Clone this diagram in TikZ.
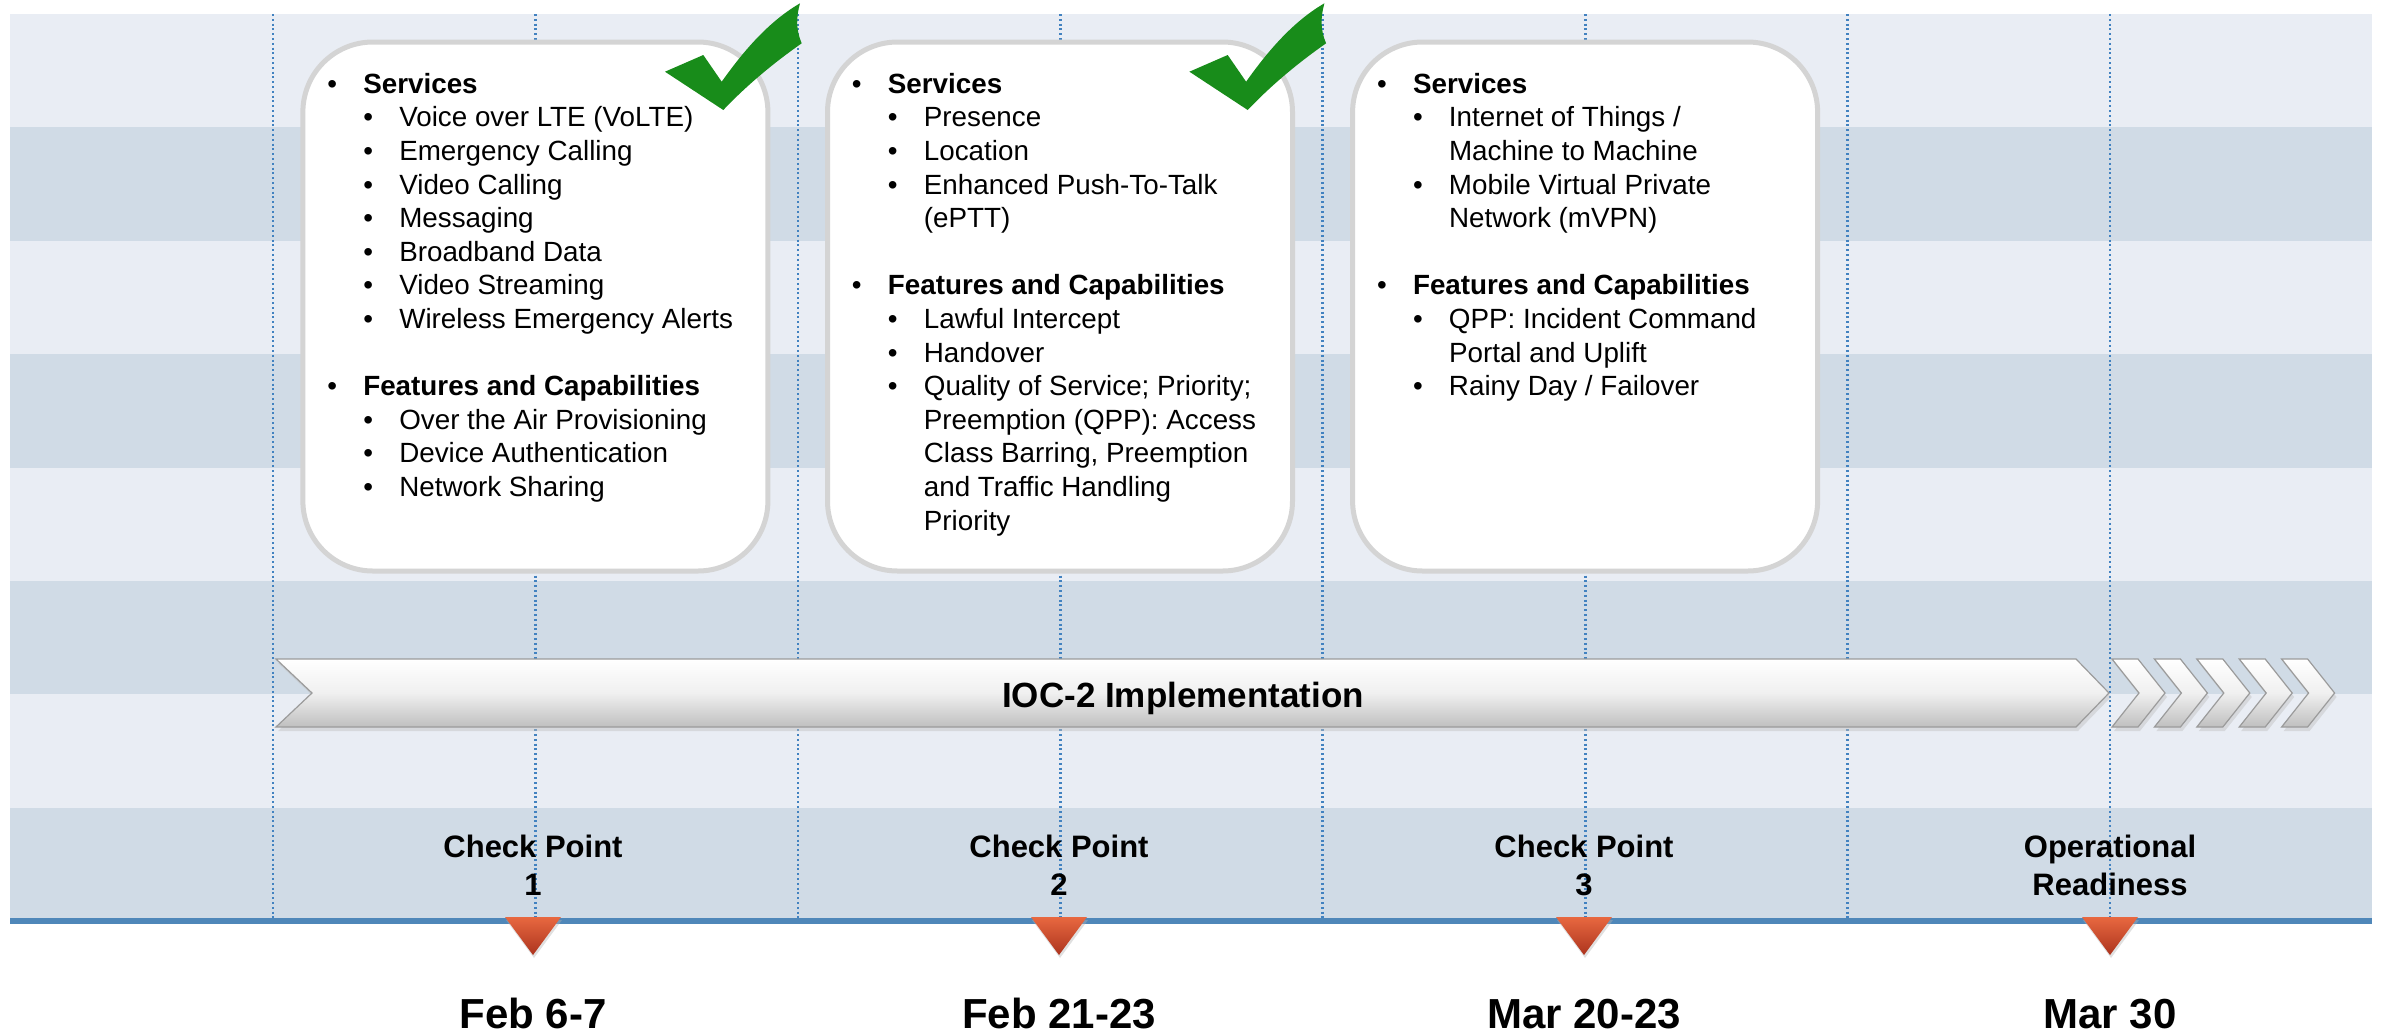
\documentclass[tikz,border=0pt]{standalone}
\usepackage{fontspec}
\setmainfont{Liberation Sans}
\definecolor{bandL}{RGB}{233,237,244}
\definecolor{bandD}{RGB}{208,219,230}
\definecolor{dotc}{RGB}{66,130,192}
\definecolor{axisc}{RGB}{79,135,185}
\definecolor{boxb}{RGB}{212,212,212}
\definecolor{chk}{RGB}{24,140,26}
\definecolor{triT}{RGB}{232,104,64}
\definecolor{triB}{RGB}{172,52,30}
\definecolor{arrB}{RGB}{155,155,155}
\newcommand\LA[1]{\makebox[18pt][l]{\textbullet}\textbf{#1}}
\newcommand\LB[1]{\hspace*{18pt}\makebox[18pt][l]{\textbullet}#1}
\newcommand\LC[1]{\hspace*{36pt}#1}
\tikzset{
  dotline/.style={draw=dotc, line width=1.4pt, dash pattern=on 1pt off 1.4pt},
  boxstyle/.style={draw=boxb, line width=2.5pt, fill=white, rounded corners=35pt,
    minimum width=232.5pt, minimum height=264.5pt, inner sep=0pt},
  txt/.style={anchor=base west, inner sep=0pt, font=\fontsize{13.9}{16}\selectfont},
  cplabel/.style={anchor=base, inner sep=0pt, font=\fontsize{15.5}{18}\selectfont\bfseries},
  datelabel/.style={anchor=base, inner sep=0pt, font=\fontsize{21}{25}\selectfont\bfseries},
  arrowfill/.style={draw=arrB, line width=0.6pt, top color=white, bottom color=black!25, middle color=white!94!black},
  shadowfill/.style={fill=black!25, opacity=0.45},
  tristyle/.style={top color=triT, bottom color=triB},
  checkshape/.style={fill=chk}
}
\begin{document}
\begin{tikzpicture}[x=0.5pt,y=-0.5pt]
\useasboundingbox (0,0) rectangle (2384,1035);
% bands
\foreach \i in {0,2,4,6} {
  \fill[bandL] (10,{14+113.375*\i}) rectangle (2372,{14+113.375*(\i+1)});
}
\foreach \i in {1,3,5,7} {
  \fill[bandD] (10,{14+113.375*\i}) rectangle (2372,{14+113.375*(\i+1)});
}
% dotted grid lines
\foreach \x in {273,535.4,797.9,1060.3,1322.7,1585.1,1847.6,2110} {
  \draw[dotline] (\x,14) -- (\x,919);
}
% axis
\draw[axisc, line width=2.85pt] (10,921) -- (2372,921);

% boxes
\node[boxstyle] (b1) at (535.4,306.5) {};
\node[boxstyle] (b2) at (1060.0,306.5) {};
\node[boxstyle] (b3) at (1585.1,306.5) {};

% box 1 text
\foreach \k/\t in {0/{\LA{Services}}, 1/{\LB{Voice over LTE (VoLTE)}}, 2/{\LB{Emergency Calling}},
  3/{\LB{Video Calling}}, 4/{\LB{Messaging}}, 5/{\LB{Broadband Data}}, 6/{\LB{Video Streaming}},
  7/{\LB{Wireless Emergency Alerts}}, 9/{\LA{Features and Capabilities}},
  10/{\LB{Over the Air Provisioning}}, 11/{\LB{Device Authentication}}, 12/{\LB{Network Sharing}}} {
  \node[txt] (ta\k) at (326.9,{93.3+33.6*\k}) {\t};
}
% box 2 text
\foreach \k/\t in {0/{\LA{Services}}, 1/{\LB{Presence}}, 2/{\LB{Location}},
  3/{\LB{Enhanced Push-To-Talk}}, 4/{\LC{(ePTT)}}, 6/{\LA{Features and Capabilities}},
  7/{\LB{Lawful Intercept}}, 8/{\LB{Handover}}, 9/{\LB{Quality of Service; Priority;}},
  10/{\LC{Preemption (QPP): Access}}, 11/{\LC{Class Barring, Preemption}},
  12/{\LC{and Traffic Handling}}, 13/{\LC{Priority}}} {
  \node[txt] (tb\k) at (851.5,{93.3+33.6*\k}) {\t};
}
% box 3 text
\foreach \k/\t in {0/{\LA{Services}}, 1/{\LB{Internet of Things /}}, 2/{\LC{Machine to Machine}},
  3/{\LB{Mobile Virtual Private}}, 4/{\LC{Network (mVPN)}}, 6/{\LA{Features and Capabilities}},
  7/{\LB{QPP: Incident Command}}, 8/{\LC{Portal and Uplift}}, 9/{\LB{Rainy Day / Failover}}} {
  \node[txt] (tc\k) at (1376.6,{93.3+33.6*\k}) {\t};
}

% checkmarks
\foreach \s in {0pt,262.2pt} {
\begin{scope}[xshift=\s]
\fill[checkshape] (665,71.7) -- (703.3,55) -- (721.7,81.7)
  .. controls (740,56) and (766,23) .. (800,3.3)
  .. controls (796,18) and (796,30) .. (801.7,43.3)
  .. controls (775,62) and (748,84) .. (723.3,110) -- cycle;
\end{scope}
}

% main arrow
\fill[shadowfill] (278,663) -- (2078,663) -- (2111,697) -- (2078,731) -- (278,731) -- (314,697) -- cycle;
\path[arrowfill] (276,659) -- (2076,659) -- (2109,693) -- (2076,727) -- (276,727) -- (312,693) -- cycle;
\node[inner sep=0pt, anchor=base, font=\fontsize{17.5}{20}\selectfont\bfseries] (ioc) at (1183,707) {IOC-2 Implementation};
% chevrons
\foreach \i in {0,...,4} {
  \pgfmathsetmacro\cx{2112+42.4*\i}
  \fill[shadowfill] (\cx+2,663) -- (\cx+28,663) -- (\cx+55,697) -- (\cx+28,731) -- (\cx+2,731) -- (\cx+29,697) -- cycle;
  \path[arrowfill] (\cx,659) -- (\cx+26,659) -- (\cx+53,693) -- (\cx+26,727) -- (\cx,727) -- (\cx+27,693) -- cycle;
}

% milestone markers and labels
\foreach \x/\la/\lb/\d [count=\n] in {533/Check Point/1/Feb 6-7, 1059/Check Point/2/Feb 21-23,
  1584/Check Point/3/Mar 20-23, 2110/Operational/Readiness/Mar 30} {
  \fill[black!30, opacity=0.4] (\x-27,920) -- (\x+29,920) -- (\x+1,958) -- cycle;
  \path[tristyle] (\x-28,917) -- (\x+28,917) -- (\x,955) -- cycle;
  \node[cplabel] (la\n) at (\x,857) {\la};
  \node[cplabel] (lb\n) at (\x,895) {\lb};
  \node[datelabel] (d\n) at (\x,1028) {\d};
}
\end{tikzpicture}
\end{document}
